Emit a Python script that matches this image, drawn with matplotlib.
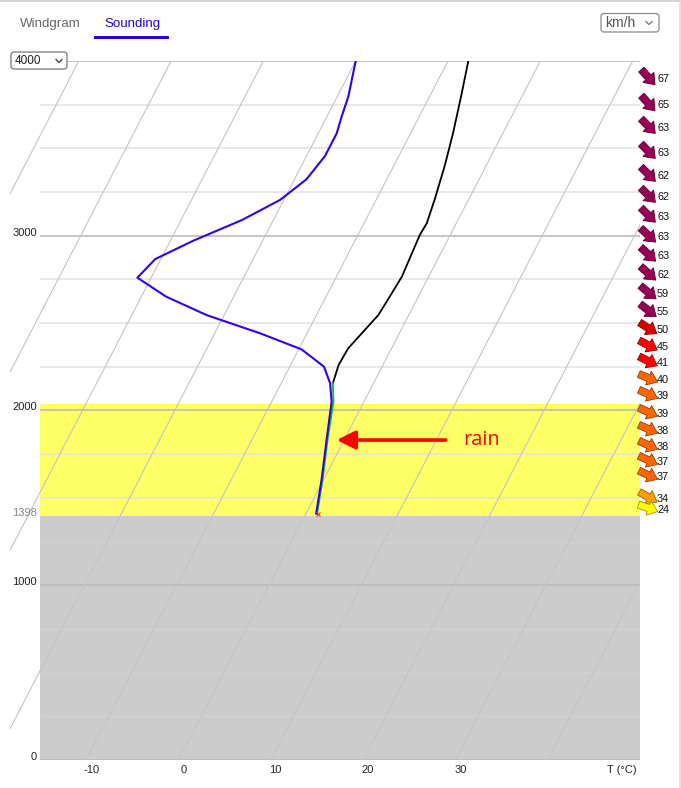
import numpy as np
import matplotlib
matplotlib.use('Agg')
import matplotlib.pyplot as plt
from matplotlib import transforms
from matplotlib.patches import Polygon, FancyBboxPatch, Rectangle
from matplotlib.colors import to_rgb

plt.rcParams['font.family'] = ['Liberation Sans', 'DejaVu Sans']

SKEW = 0.0098  # isotherm skew, degC per metre

# temperature profile (black), metres / degC
temp_alt = [4000, 3815, 3586, 3405, 3214, 3071, 3004, 2766, 2651, 2546, 2451, 2356, 2260, 2156]
temp_val = [-7.8, -6.7, -5.4, -4.5, -3.7, -3.2, -3.3, -2.9, -3.1, -3.3, -4.0, -4.7, -4.8, -4.4]

# saturated part of the temperature profile (green)
sat_alt = [2156, 2050, 1831, 1602, 1469, 1410]
sat_val = [-4.4, -3.3, -1.8, -0.1, 0.8, 1.2]

# dew point profile (blue)
dew_alt = [4000, 3796, 3681, 3586, 3456, 3323, 3205, 3090, 2972, 2867, 2760, 2651,
           2546, 2442, 2350, 2251, 2156, 2050, 1831, 1602, 1469, 1410]
dew_val = [-20.0, -18.8, -18.4, -18.0, -18.0, -18.7, -20.4, -23.4, -27.5, -30.6, -31.5, -27.3,
           -21.9, -15.1, -9.7, -6.3, -4.7, -3.5, -1.9, -0.2, 0.7, 1.1]

ground = 1398
rain_top = 2035
rain_label_alt = 1831

# winds
wind_alt = [3897, 3748, 3617, 3474, 3342, 3222, 3108, 2993, 2884, 2775, 2666, 2563,
            2461, 2363, 2272, 2175, 2083, 1980, 1883, 1791, 1705, 1620, 1494, 1431]
wind_speed = [67, 65, 63, 63, 62, 62, 63, 63, 63, 62, 59, 55,
              50, 45, 41, 40, 39, 39, 38, 38, 37, 37, 34, 24]
wind_dir = [318, 318, 316, 316, 315, 315, 315, 313, 313, 312, 310, 308,
            303, 298, 297, 293, 295, 295, 294, 295, 295, 295, 300, 290]

alt_ticks = [0, 1000, 2000, 3000]
temp_ticks = [-10, 0, 10, 20, 30]


def skew(t, h):
    return np.asarray(t) + SKEW * np.asarray(h)


def wind_color(s):
    if s >= 55:
        return '#990055'
    if s >= 50:
        return '#d50000'
    if s >= 41:
        return '#ff0000'
    if s >= 37:
        return '#ff6600'
    if s >= 30:
        return '#ffa000'
    return '#ffff00'


fig = plt.figure(figsize=(6.81, 7.88), dpi=100)
ax = fig.add_axes([10 / 681, 28 / 788, 630 / 681, 699 / 788])
ax.set_xlim(-18.25, 50)
ax.set_ylim(0, 4000)
ax.axis('off')

# ground and rain layer
ax.fill_between([-15, 50], 0, ground, color='#cccccc', lw=0, zorder=1)
ax.fill_between([-15, 50], ground, rain_top, color='#ffff66', lw=0, zorder=1)

# height grid
for h in range(0, 4001, 250):
    if h % 1000 == 0:
        col, lw = '#bbbbbb', 1.2
    elif h < ground:
        col, lw = '#d3d3d3', 1.0
    else:
        col, lw = '#e2e2e2', 1.1
    ax.plot([-15, 50], [h, h], color=col, lw=lw, zorder=2, solid_capstyle='butt')

# skewed isotherms
hh = np.array([0, 4000])
for t0 in range(-60, 60, 10):
    ax.plot(skew(t0, hh), hh, color='#c4c4c4', lw=0.8, zorder=2)

# profiles
ax.plot(skew(temp_val, temp_alt), temp_alt, color='black', lw=1.3, zorder=4)
ax.plot(skew(sat_val, sat_alt), sat_alt, color='#22bb22', lw=1.4, zorder=4)
ax.plot(skew(dew_val, dew_alt), dew_alt, color='#3300ee', lw=1.5, zorder=5)
ax.plot(skew(dew_val[-1] + 0.2, dew_alt[-1]), dew_alt[-1], marker='x',
        color='#ee3300', ms=3, mew=0.8, zorder=6)

# rain label
tip = skew(-0.8, rain_label_alt)
tail = skew(11.0, rain_label_alt)
ax.annotate('', xy=(tip, rain_label_alt), xytext=(tail, rain_label_alt),
            arrowprops=dict(arrowstyle='-|>', color='#ff0000', lw=2.6,
                            mutation_scale=28, shrinkA=0, shrinkB=0), zorder=6)
ax.text(skew(12.9, rain_label_alt), rain_label_alt, 'rain', color='#ff0000',
        fontsize=14.4, family=['Open Sans', 'DejaVu Sans'], ha='left', va='center', zorder=6)

# axis labels
for h in alt_ticks:
    ax.annotate(str(h), xy=(-15, h), xytext=(-3, 3), textcoords='offset pixels',
                ha='right', va='center', fontsize=8, color='#222222')
ax.annotate(str(ground), xy=(-15, ground), xytext=(-3, 3), textcoords='offset pixels',
            ha='right', va='center', fontsize=8, color='#888888')
for t in temp_ticks:
    ax.annotate(str(t), xy=(t, 0), xytext=(5, -10), textcoords='offset pixels',
                ha='center', va='center', fontsize=8, color='#222222')
ax.annotate('T (°C)', xy=(50, 0), xytext=(-3, -10), textcoords='offset pixels',
            ha='right', va='center', fontsize=8, color='#222222')

# wind arrows
side = transforms.blended_transform_factory(ax.transAxes, ax.transData)
xa = (648 - 10) / 630
shape = np.array([(-10, -3.6), (0.5, -3.6), (0.5, -7.5), (10.5, 0),
                  (0.5, 7.5), (0.5, 3.6), (-10, 3.6)])
for h, s, d in zip(wind_alt, wind_speed, wind_dir):
    ang = 90 - (d - 180)
    tr = (transforms.Affine2D().rotate_deg(ang).translate(0, 2)
          + transforms.ScaledTranslation(xa, h, side))
    fc = wind_color(s)
    ec = tuple(c * 0.6 for c in to_rgb(fc))
    ax.add_patch(Polygon(shape, closed=True, transform=tr, fc=fc, ec=ec,
                         lw=0.6, clip_on=False, zorder=6))
    ax.annotate(str(s), xy=(xa, h), xycoords=side, xytext=(9, 0),
                textcoords='offset pixels', ha='left', va='center',
                fontsize=7.8, color='#111111', annotation_clip=False, zorder=7)

# page chrome: tabs and selectors
ui = fig.add_axes([0, 0, 1, 1])
ui.set_xlim(0, 681)
ui.set_ylim(788, 0)
ui.axis('off')
ui.patch.set_visible(False)

ui.plot([0, 681], [0.5, 0.5], color='#cccccc', lw=1.2)
ui.plot([679.5, 679.5], [0, 788], color='#dddddd', lw=1.2)
ui.text(20, 24, 'Windgram', fontsize=9.6, color='#666666', va='center', ha='left')
ui.text(104, 24, 'Sounding', fontsize=9.6, color='#2a00dd', va='center', ha='left')
ui.add_patch(Rectangle((94, 35.5), 75, 3, color='#2a00e0', lw=0))

ui.add_patch(FancyBboxPatch((11, 52), 56, 17, boxstyle='round,pad=0,rounding_size=3',
                            fc='white', ec='#777777', lw=0.9, zorder=5))
ui.text(15, 61, '4000', fontsize=8.5, color='#222222', va='center', ha='left', zorder=6)
ui.plot([56, 59, 62], [59.5, 62.5, 59.5], color='#333333', lw=0.9, zorder=6)

ui.add_patch(FancyBboxPatch((601, 13.5), 58, 18.5, boxstyle='round,pad=0,rounding_size=3',
                            fc='white', ec='#888888', lw=0.9, zorder=5))
ui.text(605, 23, 'km/h', fontsize=10, color='#555555', va='center', ha='left', zorder=6)
ui.plot([646, 649, 652], [21.5, 24.5, 21.5], color='#777777', lw=0.9, zorder=6)

fig.savefig('out.png', dpi=100)
